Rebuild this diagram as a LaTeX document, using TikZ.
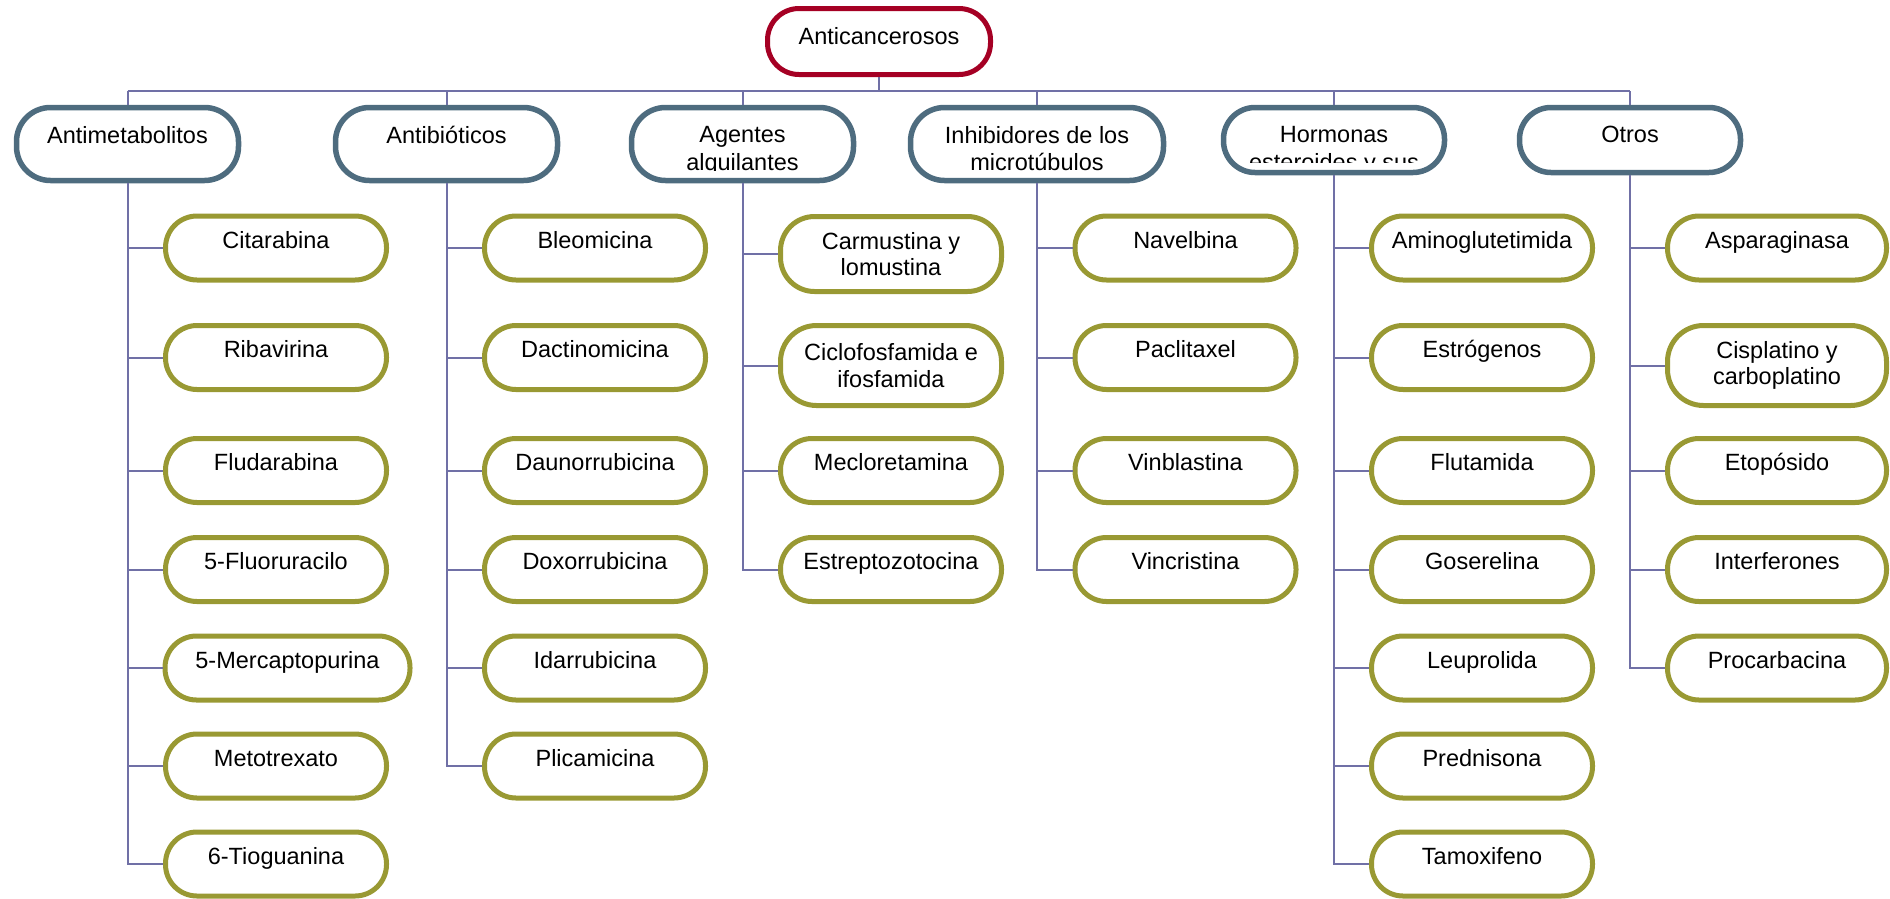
\documentclass[tikz,border=0pt]{standalone}
\usepackage{fontspec}
\setmainfont{Liberation Sans}
\definecolor{rootred}{RGB}{165,0,36}
\definecolor{catblue}{RGB}{78,108,127}
\definecolor{leafolive}{RGB}{153,153,51}
\definecolor{linkblue}{RGB}{112,112,166}
\begin{document}
\begin{tikzpicture}[x=1pt,y=-1pt,
  every node/.style={font=\fontsize{23.5}{26.5}\selectfont, inner sep=0pt},
  pill/.style={draw, fill=white, line width=5pt, rounded corners=31.5pt},
  rootbox/.style={pill, draw=rootred, minimum width=223pt, minimum height=66pt,
    text height=5pt, text depth=0pt},
  catbox/.style={pill, draw=catblue, line width=5.5pt, minimum height=73pt},
  leafbox/.style={pill, draw=leafolive, minimum width=221pt, minimum height=64pt},
  oneline/.style={text height=0pt, text depth=0pt},
  twoline/.style={align=center},
  cattext/.style={anchor=north, align=center, font=\fontsize{23.5}{27.5}\selectfont},
  link/.style={draw=linkblue, line width=2pt}
]
\useasboundingbox (0,0) rectangle (1890,898);

% top of the tree
\node[rootbox] (root) at (879,41.5) {Anticancerosos};

% drug families
\node[catbox, minimum width=222pt, rounded corners=34pt] (antimet) at (127.5,144) {};
\node[catbox, minimum width=222pt, rounded corners=34pt] (antibio) at (446.5,144) {};
\node[catbox, minimum width=222pt, rounded corners=34pt] (alqui)   at (742.5,144) {};
\node[catbox, minimum width=253pt, rounded corners=34pt] (micro)   at (1037,144) {};
\node[catbox, minimum width=221pt, minimum height=65pt] (hormo) at (1334,140) {};
\node[catbox, minimum width=221pt, minimum height=65pt] (otros) at (1630,140) {};

% family captions, cut off at the inner margin of their boxes
\foreach \b/\t in {antimet/Antimetabolitos, antibio/Antibióticos,
    alqui/{Agentes\\alquilantes}, micro/{Inhibidores de los\\microtúbulos},
    hormo/{Hormonas\\esteroides y sus}, otros/Otros}{
  \begin{scope}
    \clip ([yshift=-8pt]\b.north west) rectangle ([yshift=13pt]\b.south east);
    \node[cattext] (\b-caption) at (\b.center |- 0,126.2) {\t};
  \end{scope}
}

% antimetabolites
\node[leafbox, oneline] (citar)  at (276,248)   {Citarabina};
\node[leafbox, oneline] (ribav)  at (276,357.5) {Ribavirina};
\node[leafbox, oneline] (fluda)  at (276,470.5) {Fludarabina};
\node[leafbox, oneline] (fluor)  at (276,569.5) {5-Fluoruracilo};
\node[leafbox, oneline, minimum width=245pt] (mercap) at (287.5,668) {5-Mercaptopurina};
\node[leafbox, oneline] (metot)  at (276,766)   {Metotrexato};
\node[leafbox, oneline] (tiogu)  at (276,864)   {6-Tioguanina};

% antibiotics
\node[leafbox, oneline] (bleo)   at (595,248)   {Bleomicina};
\node[leafbox, oneline] (dacti)  at (595,357.5) {Dactinomicina};
\node[leafbox, oneline] (dauno)  at (595,470.5) {Daunorrubicina};
\node[leafbox, oneline] (doxo)   at (595,569.5) {Doxorrubicina};
\node[leafbox, oneline] (idarr)  at (595,668)   {Idarrubicina};
\node[leafbox, oneline] (plica)  at (595,766)   {Plicamicina};

% alkylating agents
\node[leafbox, twoline, minimum height=75pt, rounded corners=34pt] (carmu) at (891,254)   {Carmustina y\\lomustina};
\node[leafbox, twoline, minimum height=80pt, rounded corners=36pt] (ciclo) at (891,365.5) {Ciclofosfamida e\\ifosfamida};
\node[leafbox, oneline] (meclo)  at (891,470.5) {Mecloretamina};
\node[leafbox, oneline] (estrep) at (891,569.5) {Estreptozotocina};

% microtubule inhibitors
\node[leafbox, oneline] (navel)  at (1185.5,248)   {Navelbina};
\node[leafbox, oneline] (pacli)  at (1185.5,357.5) {Paclitaxel};
\node[leafbox, oneline] (vinbl)  at (1185.5,470.5) {Vinblastina};
\node[leafbox, oneline] (vincr)  at (1185.5,569.5) {Vincristina};

% hormones
\node[leafbox, oneline] (amino)  at (1482,248)   {Aminoglutetimida};
\node[leafbox, oneline] (estro)  at (1482,357.5) {Estrógenos};
\node[leafbox, oneline] (fluta)  at (1482,470.5) {Flutamida};
\node[leafbox, oneline] (gose)   at (1482,569.5) {Goserelina};
\node[leafbox, oneline] (leupr)  at (1482,668)   {Leuprolida};
\node[leafbox, oneline] (predn)  at (1482,766)   {Prednisona};
\node[leafbox, oneline] (tamox)  at (1482,864)   {Tamoxifeno};

% others
\node[leafbox, oneline, minimum width=219pt] (aspar) at (1777,248)   {Asparaginasa};
\node[leafbox, twoline, minimum width=219pt, minimum height=80pt, rounded corners=36pt] (cispl) at (1777,365.5) {Cisplatino y\\carboplatino};
\node[leafbox, oneline, minimum width=219pt] (etopo) at (1777,470.5) {Etopósido};
\node[leafbox, oneline, minimum width=219pt] (inter) at (1777,569.5) {Interferones};
\node[leafbox, oneline, minimum width=219pt] (procar) at (1777,668)  {Procarbacina};

% root to families
\draw[link] (root.south) -- (root.south |- 0,91);
\draw[link] (antimet.north |- 0,91) -- (otros.north |- 0,91);
\foreach \c in {antimet,antibio,alqui,micro,hormo,otros}
  \draw[link] (\c.north |- 0,91) -- (\c.north);

% families to drugs: the spine runs down to the last drug
\draw[link] (antimet.south) -- (antimet.south |- tiogu.west) -- (tiogu.west);
\foreach \l in {citar,ribav,fluda,fluor,mercap,metot}
  \draw[link] (antimet.south |- \l.west) -- (\l.west);

\draw[link] (antibio.south) -- (antibio.south |- plica.west) -- (plica.west);
\foreach \l in {bleo,dacti,dauno,doxo,idarr}
  \draw[link] (antibio.south |- \l.west) -- (\l.west);

\draw[link] (alqui.south) -- (alqui.south |- estrep.west) -- (estrep.west);
\foreach \l in {carmu,ciclo,meclo}
  \draw[link] (alqui.south |- \l.west) -- (\l.west);

\draw[link] (micro.south) -- (micro.south |- vincr.west) -- (vincr.west);
\foreach \l in {navel,pacli,vinbl}
  \draw[link] (micro.south |- \l.west) -- (\l.west);

\draw[link] (hormo.south) -- (hormo.south |- tamox.west) -- (tamox.west);
\foreach \l in {amino,estro,fluta,gose,leupr,predn}
  \draw[link] (hormo.south |- \l.west) -- (\l.west);

\draw[link] (otros.south) -- (otros.south |- procar.west) -- (procar.west);
\foreach \l in {aspar,cispl,etopo,inter}
  \draw[link] (otros.south |- \l.west) -- (\l.west);
\end{tikzpicture}
\end{document}
